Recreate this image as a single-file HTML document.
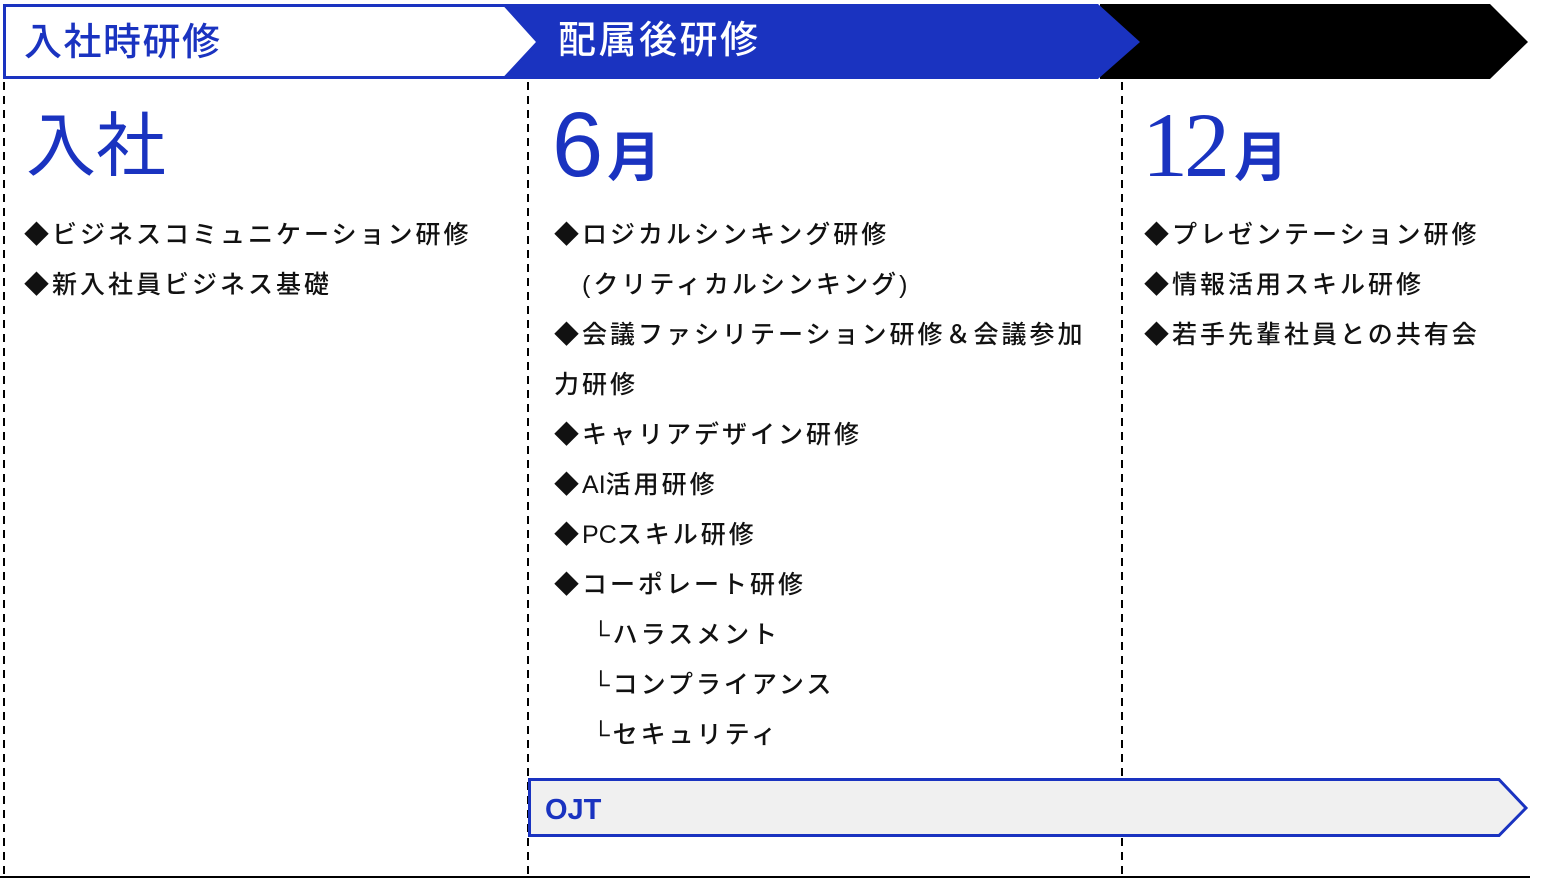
<!DOCTYPE html>
<html><head><meta charset="utf-8"><style>
body{margin:0;width:1549px;height:878px;background:#fff;position:relative;overflow:hidden;font-family:"Liberation Sans","Noto Sans CJK JP",sans-serif}
.t{position:absolute;white-space:nowrap}
.items{position:absolute;font-size:25px;line-height:50px;color:#111;letter-spacing:3px;font-weight:500;white-space:nowrap}
.items .l{letter-spacing:0}
.big{position:absolute;color:#1a33c0;font-family:"Noto Sans CJK JP",sans-serif}
</style></head><body>
<svg width="1549" height="878" style="position:absolute;left:0;top:0">
<polygon points="1100,4 1490,4 1528,42 1490,79 1100,79" fill="#000"/>
<polygon points="505,4 1098,4 1140,42 1098,79 505,79" fill="#1a33c0"/>
<polygon points="4.5,5.5 505,5.5 538,42 505,77.5 4.5,77.5" fill="#fff" stroke="#1a33c0" stroke-width="3"/>
<g stroke="#000" stroke-width="2" stroke-dasharray="8,6">
<line x1="4" y1="82" x2="4" y2="876"/>
<line x1="528" y1="82" x2="528" y2="876"/>
<line x1="1122" y1="82" x2="1122" y2="876"/>
</g>
<line x1="0" y1="877" x2="1530" y2="877" stroke="#000" stroke-width="2"/>
<polygon points="529.5,779.5 1499,779.5 1526,808 1499,835.5 529.5,835.5" fill="#f0f0f0" stroke="#1a33c0" stroke-width="3"/>
</svg>
<div class="t" style="left:24px;top:19px;font-size:38px;color:#1a33c0;line-height:48px;letter-spacing:1.5px;font-weight:500">入社時研修</div>
<div class="t" style="left:558px;top:17px;font-size:38px;color:#fff;line-height:48px;letter-spacing:2.5px;font-weight:500">配属後研修</div>
<div class="big" style="left:26px;top:96px;font-size:70px;line-height:90px">入社</div>
<div class="big" style="left:552px;top:90px;font-size:92px;line-height:110px;font-family:'Liberation Sans',sans-serif">6<span style="font-size:54px;font-family:'Noto Sans CJK JP',sans-serif;font-weight:bold;margin-left:4px">月</span></div>
<div class="big" style="left:1142px;top:90px;font-size:92px;line-height:110px;font-family:'Liberation Serif',serif;letter-spacing:-4px">12<span style="font-size:54px;font-family:'Noto Sans CJK JP',sans-serif;font-weight:bold;letter-spacing:0;margin-left:8px">月</span></div>
<div class="items" style="left:24px;top:210px">◆ビジネスコミュニケーション研修<br>◆新入社員ビジネス基礎</div>
<div class="items" style="left:554px;top:210px">◆ロジカルシンキング研修<br>　(クリティカルシンキング)<br>◆会議ファシリテーション研修＆会議参加<br>力研修<br>◆キャリアデザイン研修<br>◆<span class="l">AI</span>活用研修<br>◆<span class="l">PC</span>スキル研修<br>◆コーポレート研修<br>　 └ハラスメント<br>　 └コンプライアンス<br>　 └セキュリティ</div>
<div class="items" style="left:1144px;top:210px">◆プレゼンテーション研修<br>◆情報活用スキル研修<br>◆若手先輩社員との共有会</div>
<div class="t" style="left:545px;top:794px;font-size:29px;font-weight:bold;color:#1a33c0;line-height:32px">OJT</div>
</body></html>
